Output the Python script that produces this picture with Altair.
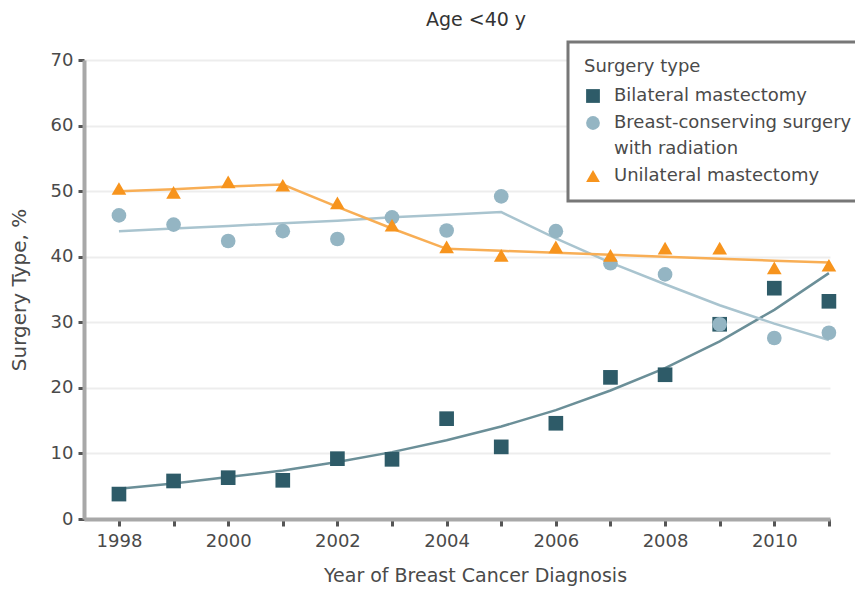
import altair as alt
import pandas as pd

years = list(range(1998, 2012))
series_names = [
    "Bilateral mastectomy",
    "Breast-conserving surgery with radiation",
    "Unilateral mastectomy",
]

# observed percentages
bilateral = [3.8, 5.8, 6.3, 5.9, 9.2, 9.1, 15.3, 11.0, 14.6, 21.6, 22.0, 29.7, 35.2, 33.2]
bcs = [46.3, 44.9, 42.4, 43.9, 42.7, 46.0, 44.0, 49.2, 43.9, 39.0, 37.3, 29.7, 27.6, 28.4]
unilateral = [50.4, 49.8, 51.4, 50.9, 48.2, 44.8, 41.5, 40.2, 41.5, 40.2, 41.3, 41.3, 38.3, 38.7]

# fitted trend values
bilateral_fit = [4.6, 5.4, 6.4, 7.4, 8.7, 10.2, 12.0, 14.1, 16.6, 19.6, 23.0, 27.1, 31.9, 37.5]
bcs_fit = [43.9, 44.3, 44.7, 45.1, 45.5, 46.0, 46.4, 46.8, 42.8, 39.1, 35.8, 32.6, 29.8, 27.3]
unilateral_fit = [50.0, 50.3, 50.7, 51.0, 47.6, 44.3, 41.2, 40.9, 40.6, 40.3, 40.0, 39.7, 39.4, 39.1]

point_colors = ["#2e5b68", "#94b5c3", "#f7941d"]
fit_colors = ["#6b8f98", "#a9c4cf", "#f8ae55"]
shapes = ["square", "circle", "triangle-up"]

y_ticks = [0, 10, 20, 30, 40, 50, 60, 70]

rows = []
for name, vals, fits in zip(series_names, [bilateral, bcs, unilateral],
                            [bilateral_fit, bcs_fit, unilateral_fit]):
    for yr, v, f in zip(years, vals, fits):
        rows.append({"year": yr, "series": name, "value": v, "fit": f})
df = pd.DataFrame(rows)

FONT = "DejaVu Sans"
TXT = "#4a4a4a"

x_enc = alt.X(
    "year:Q",
    scale=alt.Scale(domain=[1997.36, 2011.02], nice=False, zero=False),
    axis=alt.Axis(
        values=years,
        labelExpr="datum.value % 2 == 0 ? datum.label : ''",
        format="d",
        grid=False,
        title="Year of Breast Cancer Diagnosis",
        titleX=391,
        titlePadding=16,
        titleFontSize=19,
        tickSize=7,
        labelPadding=6,
    ),
)
y_scale = alt.Scale(domain=[0, 70], nice=False)
y_axis = alt.Axis(
    values=y_ticks,
    grid=True,
    title="Surgery Type, %",
    titleFontSize=20,
    titlePadding=21,
    tickSize=6,
    labelPadding=5,
)

line_layers = [
    alt.Chart(df)
    .transform_filter(alt.datum.series == name)
    .mark_line(strokeWidth=2.5, color=col)
    .encode(x=x_enc, y=alt.Y("fit:Q", scale=y_scale, axis=y_axis))
    for name, col in zip(series_names, fit_colors)
]

legend = alt.Legend(
    title="Surgery type",
    orient="none",
    legendX=484,
    legendY=-18,
    labelExpr="datum.label == 'Breast-conserving surgery with radiation' ? ['Breast-conserving surgery', 'with radiation'] : datum.label",
    labelLimit=400,
)

points = alt.Chart(df).mark_point(filled=True, size=215, opacity=1).encode(
    x=x_enc,
    y=alt.Y("value:Q", scale=y_scale, axis=y_axis),
    color=alt.Color("series:N", scale=alt.Scale(domain=series_names, range=point_colors), legend=legend),
    shape=alt.Shape("series:N", scale=alt.Scale(domain=series_names, range=shapes), legend=legend),
)

chart = (
    alt.layer(*line_layers, points)
    .properties(
        width=746,
        height=459,
        autosize=alt.AutoSizeParams(type="none"),
        padding={"left": 76, "top": 52, "right": 25, "bottom": 67},
        title=alt.TitleParams("Age <40 y", fontSize=19, fontWeight="normal", font=FONT,
                              color="#333333", dx=19, offset=11, frame="group"),
    )
    .configure(style={"guide-label": {"lineHeight": 26}})
    .configure_view(stroke=None)
    .configure_axis(
        labelFont=FONT,
        labelFontSize=18,
        labelColor=TXT,
        titleFont=FONT,
        titleFontWeight="normal",
        titleColor=TXT,
        domainColor="#a8a8a8",
        domainWidth=4,
        tickColor="#555555",
        tickWidth=3,
        gridColor="#ededed",
        gridWidth=2,
    )
    .configure_legend(
        labelFont=FONT,
        labelFontSize=18,
        labelColor=TXT,
        titleFont=FONT,
        titleFontSize=18,
        titleFontWeight="normal",
        titleColor=TXT,
        titlePadding=11,
        padding=16,
        rowPadding=9,
        labelOffset=12,
        symbolSize=190,
        strokeColor="#777777",
        strokeWidth=3,
        fillColor="white",
    )
)

chart.save("out.html", embed_options={"renderer": "svg", "actions": False})
